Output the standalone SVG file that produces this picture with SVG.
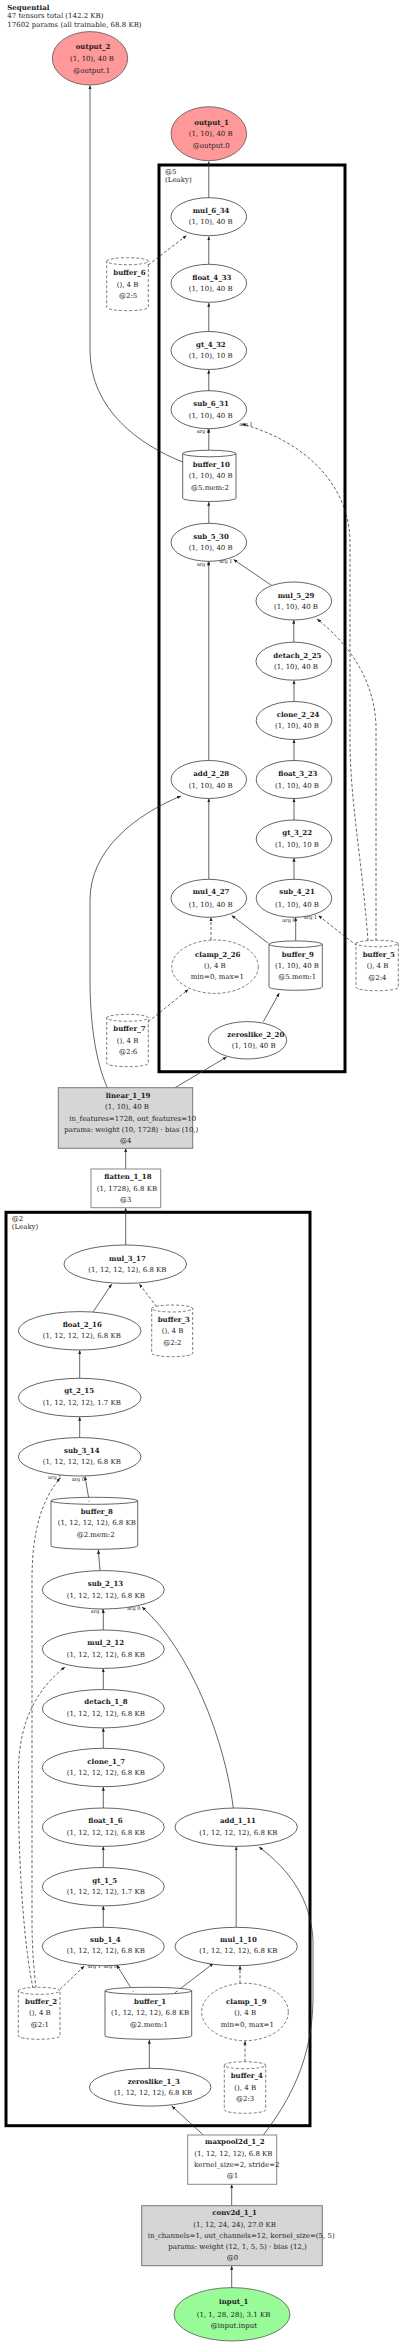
<svg xmlns="http://www.w3.org/2000/svg" width="400" height="2344" viewBox="0 0 400 2344">
<style>
text{font-family:"DejaVu Serif","Liberation Serif",serif;font-size:7px;fill:#222}
.b{font-weight:bold}
.s{font-size:5px;text-anchor:middle}
.n{fill:#fff;stroke:#222;stroke-width:0.7}
.d{fill:#fff;stroke:#444;stroke-width:0.7;stroke-dasharray:3,2}
.out{fill:#ff9999;stroke:#444;stroke-width:0.7}
.in{fill:#98fb98;stroke:#444;stroke-width:0.7}
.box{fill:#fff;stroke:#888;stroke-width:1}
.gbox{fill:#d6d6d6;stroke:#777;stroke-width:1}
.cl{fill:none;stroke:#000;stroke-width:3}
#edges path{fill:none;stroke:#333;stroke-width:0.75;marker-end:url(#ah)}
#edges path.ds{stroke-dasharray:3,2}
</style>
<defs>
<marker id="ah" markerUnits="userSpaceOnUse" markerWidth="4" markerHeight="3.2" viewBox="0 0 6 5" refX="6" refY="2.5" orient="auto"><path d="M0,0 L6,2.5 L0,5 z" fill="#222"/></marker>
</defs>
<rect width="400" height="2344" fill="#fff"/>
<g id="header">
<text x="7.3" y="9.8" class="b">Sequential</text>
<text x="7.3" y="18.2">47 tensors total (142.2 KB)</text>
<text x="7.3" y="26.5">17602 params (all trainable, 68.8 KB)</text>
</g>
<g id="cluster_5"><rect class="cl" x="159" y="165" width="186" height="906.7"/><text x="165" y="174.2">@5</text><text x="165" y="181.8">(Leaky)</text></g>
<g id="cluster_2"><rect class="cl" x="6" y="1212.3" width="304" height="913.4"/><text x="11.7" y="1220.8">@2</text><text x="11.7" y="1229.2">(Leaky)</text></g>
<g id="edges">
<path d="M208.8,197.7 L208.8,161.5"/>
<path class="ds" d="M148.3,265 L186.5,235.5"/>
<path d="M208.8,264.3 L208.8,236.5"/>
<path d="M208.8,331.7 L208.8,303"/>
<path d="M208.8,391 L208.8,370"/>
<path d="M208.8,450 L208.8,429"/>
<path class="ds" d="M368,941 C362,860 350,800 350,740 L350,540 C348,480 300,440 242,424"/>
<path d="M182.7,462 C140,445 90,410 90,350 L90,85.5"/>
<path d="M208.8,523.5 L208.8,502"/>
<path d="M271.7,585.5 L233.5,559.5"/>
<path d="M208.8,760.5 L208.8,561.5"/>
<path d="M293.8,642 L293.8,620"/>
<path class="ds" d="M376,941 L376,725 C374,680 350,645 317,619"/>
<path d="M294,701.7 L294,680.5"/>
<path d="M294,760.5 L294,739.5"/>
<path d="M208.8,879.3 L208.8,798.5"/>
<path d="M107.3,1087.7 C95,1060 90,1020 90,980 L90,900 C90,850 135,815 181,796"/>
<path d="M294,820 L294,798.5"/>
<path d="M294,879.3 L294,858"/>
<path class="ds" d="M211,940 L211,917.5"/>
<path d="M268.3,943.3 L231.7,915.5"/>
<path d="M295.7,940.7 L295.7,917.5"/>
<path class="ds" d="M356.7,945.7 L318.3,915.5"/>
<path class="ds" d="M148.3,1021.7 L188.3,989.5"/>
<path d="M263.3,1021.7 L279.3,993"/>
<path d="M175,1087.7 L226.7,1057"/>
<path d="M125.7,1169 L125.7,1148.5"/>
<path d="M125.7,1245 L125.7,1208"/>
<path d="M93.3,1311.7 L111.7,1284"/>
<path class="ds" d="M156.7,1306.7 L139.3,1284"/>
<path d="M79.7,1378.3 L79.7,1350.3"/>
<path d="M79.7,1437.7 L79.7,1416.8"/>
<path d="M89.3,1501.7 L85,1476.5"/>
<path class="ds" d="M36,1988 C34,1970 32,1950 32,1920 L32,1580 C32,1530 42,1500 60,1478"/>
<path d="M100,1570.7 L98.3,1550"/>
<path d="M103.3,1630 L103.3,1609.3"/>
<path d="M233.3,1808 C225,1740 190,1650 142,1607"/>
<path class="ds" d="M33,1988 C25,1950 19,1880 18.5,1800 L18.5,1770 C19,1720 38,1688 65,1667"/>
<path d="M103.3,1689.5 L103.3,1668.5"/>
<path d="M103.3,1748.3 L103.3,1728"/>
<path d="M103.3,1808 L103.3,1787"/>
<path d="M103.3,1867.5 L103.3,1846.5"/>
<path d="M103.3,1927.3 L103.3,1906"/>
<path d="M236.2,1927.3 L236.2,1846.5"/>
<path d="M263.3,2135 C290,2100 312,2060 313,2000 L313,1940 C311,1900 290,1870 259,1847"/>
<path class="ds" d="M60,1989.3 L84.3,1966"/>
<path d="M133.3,1991.7 L116.7,1965"/>
<path d="M175,1992.7 L213.3,1963.5"/>
<path class="ds" d="M240,1983.3 L240,1965.8"/>
<path d="M149.3,2068.3 L149.3,2040"/>
<path class="ds" d="M245,2061.7 L245,2041"/>
<path d="M203.3,2135 L171.7,2106"/>
<path d="M231.7,2205.7 L231.7,2184.5"/>
<path d="M231.7,2287.7 L231.7,2266"/>
</g>
<g id="edge_labels">
<text class="s" x="203.3" y="433.4">arg 0</text><text class="s" x="246" y="426">arg 1</text>
<text class="s" x="203.3" y="566">arg 0</text><text class="s" x="225.8" y="562.7">arg 1</text>
<text class="s" x="289" y="922.4">arg 0</text><text class="s" x="310.5" y="919">arg 1</text>
<text class="s" x="54.7" y="1479.4">arg 1</text><text class="s" x="78.3" y="1480.7">arg 0</text>
<text class="s" x="97.5" y="1613.4">arg 1</text><text class="s" x="133.8" y="1610">arg 0</text>
<text class="s" x="94.3" y="1968.4">arg 1</text><text class="s" x="110.5" y="1968.4">arg 0</text>
</g>
<g id="output_2"><ellipse class="out" cx="90" cy="58.3" rx="37.7" ry="26.7"/><text x="75.7" y="49.2" class="b">output_2</text><text x="70" y="60.8">(1, 10), 40 B</text><text x="73.3" y="72.5">@output.1</text></g>
<g id="output_1"><ellipse class="out" cx="208.8" cy="133.7" rx="37.8" ry="27"/><text x="194.3" y="124.5" class="b">output_1</text><text x="188.7" y="135.8">(1, 10), 40 B</text><text x="192.7" y="147.5">@output.0</text></g>
<g id="mul_6_34"><ellipse class="n" cx="208.8" cy="216.7" rx="37.8" ry="19"/><text x="192.7" y="213.2" class="b">mul_6_34</text><text x="188.7" y="224.2">(1, 10), 40 B</text></g>
<g id="buffer_6"><path class="d" d="M106.7,261.2 A20.8,3.5 0 0 1 148.3,261.2 A20.8,3.5 0 0 1 106.7,261.2 L106.7,307.2 A20.8,3.5 0 0 0 148.3,307.2 L148.3,261.2"/><text x="113.3" y="274.8" class="b">buffer_6</text><text x="116.7" y="286.5">(), 4 B</text><text x="119" y="297.5">@2:5</text></g>
<g id="float_4_33"><ellipse class="n" cx="208.8" cy="283.3" rx="37.8" ry="19"/><text x="192.3" y="279.8" class="b">float_4_33</text><text x="188.7" y="290.8">(1, 10), 40 B</text></g>
<g id="gt_4_32"><ellipse class="n" cx="208.8" cy="350.5" rx="37.8" ry="19"/><text x="196" y="346.5" class="b">gt_4_32</text><text x="188.7" y="357.8">(1, 10), 10 B</text></g>
<g id="sub_6_31"><ellipse class="n" cx="208.8" cy="409.7" rx="37.8" ry="19"/><text x="193.3" y="405.8" class="b">sub_6_31</text><text x="188.7" y="417.5">(1, 10), 40 B</text></g>
<g id="buffer_10"><path class="n" d="M182.7,453.5 A26.7,3.5 0 0 1 236,453.5 A26.7,3.5 0 0 1 182.7,453.5 L182.7,498.2 A26.7,3.5 0 0 0 236,498.2 L236,453.5"/><text x="192.7" y="466.5" class="b">buffer_10</text><text x="188.7" y="478.2">(1, 10), 40 B</text><text x="191" y="489.8">@5.mem:2</text></g>
<g id="sub_5_30"><ellipse class="n" cx="208.8" cy="542.3" rx="37.8" ry="19"/><text x="193.3" y="538.5" class="b">sub_5_30</text><text x="188.7" y="550.2">(1, 10), 40 B</text></g>
<g id="mul_5_29"><ellipse class="n" cx="293.8" cy="601" rx="37.8" ry="19"/><text x="277.7" y="597.5" class="b">mul_5_29</text><text x="274" y="609.2">(1, 10), 40 B</text></g>
<g id="detach_2_25"><ellipse class="n" cx="293.8" cy="661.2" rx="37.8" ry="19"/><text x="273.3" y="657.5" class="b">detach_2_25</text><text x="274" y="669.2">(1, 10), 40 B</text></g>
<g id="clone_2_24"><ellipse class="n" cx="294" cy="720.5" rx="37.8" ry="19"/><text x="276.7" y="716.5" class="b">clone_2_24</text><text x="275" y="728.2">(1, 10), 40 B</text></g>
<g id="add_2_28"><ellipse class="n" cx="208.8" cy="779.5" rx="37.8" ry="19"/><text x="193.3" y="775.8" class="b">add_2_28</text><text x="188.7" y="787.5">(1, 10), 40 B</text></g>
<g id="float_3_23"><ellipse class="n" cx="294" cy="779.5" rx="37.8" ry="19"/><text x="278.3" y="775.8" class="b">float_3_23</text><text x="275" y="787.5">(1, 10), 40 B</text></g>
<g id="gt_3_22"><ellipse class="n" cx="294" cy="839" rx="37.8" ry="19"/><text x="282.3" y="835.2" class="b">gt_3_22</text><text x="275" y="846.8">(1, 10), 10 B</text></g>
<g id="mul_4_27"><ellipse class="n" cx="208.8" cy="898.3" rx="37.8" ry="19"/><text x="192.7" y="894.2" class="b">mul_4_27</text><text x="188.7" y="906.5">(1, 10), 40 B</text></g>
<g id="sub_4_21"><ellipse class="n" cx="294" cy="898.3" rx="37.8" ry="19"/><text x="279.3" y="894.2" class="b">sub_4_21</text><text x="275" y="906.5">(1, 10), 40 B</text></g>
<g id="clamp_2_26"><ellipse class="d" cx="215" cy="966.7" rx="43.3" ry="26.7"/><text x="195" y="956.5" class="b">clamp_2_26</text><text x="204" y="968.2">(), 4 B</text><text x="190.7" y="979.2">min=0, max=1</text></g>
<g id="buffer_9"><path class="n" d="M269,944.2 A26.7,3.5 0 0 1 322.3,944.2 A26.7,3.5 0 0 1 269,944.2 L269,987 A26.7,3.5 0 0 0 322.3,987 L322.3,944.2"/><text x="281.7" y="956.5" class="b">buffer_9</text><text x="275" y="968.2">(1, 10), 40 B</text><text x="278.3" y="979.2">@5.mem:1</text></g>
<g id="buffer_5"><path class="d" d="M356,943.5 A21.2,3.5 0 0 1 398.3,943.5 A21.2,3.5 0 0 1 356,943.5 L356,987.5 A21.2,3.5 0 0 0 398.3,987.5 L398.3,943.5"/><text x="362.7" y="956.5" class="b">buffer_5</text><text x="366.7" y="968.2">(), 4 B</text><text x="368.3" y="980.2">@2:4</text></g>
<g id="buffer_7"><path class="d" d="M106.7,1017.8 A20.8,3.5 0 0 1 148.3,1017.8 A20.8,3.5 0 0 1 106.7,1017.8 L106.7,1063.2 A20.8,3.5 0 0 0 148.3,1063.2 L148.3,1017.8"/><text x="113.3" y="1030.8" class="b">buffer_7</text><text x="116.7" y="1042.5">(), 4 B</text><text x="119" y="1054.2">@2:6</text></g>
<g id="zeroslike_2_20"><ellipse class="n" cx="247.5" cy="1040.3" rx="39.2" ry="18.7"/><text x="227.3" y="1036.8" class="b">zeroslike_2_20</text><text x="231.7" y="1048.2">(1, 10), 40 B</text></g>
<g id="linear_1_19"><rect class="gbox" x="58.3" y="1087.7" width="134.4" height="60.6"/><text x="105.7" y="1097.5" class="b">linear_1_19</text><text x="105" y="1109.2">(1, 10), 40 B</text><text x="69.3" y="1120.8">in_features=1728, out_features=10</text><text x="64.3" y="1131.8">params: weight (10, 1728) · bias (10,)</text><text x="120" y="1143.2">@4</text></g>
<g id="flatten_1_18"><rect class="box" x="91" y="1169" width="69.7" height="38.7"/><text x="104.3" y="1179.2" class="b">flatten_1_18</text><text x="96.7" y="1190.8">(1, 1728), 6.8 KB</text><text x="120" y="1201.8">@3</text></g>
<g id="mul_3_17"><ellipse class="n" cx="125.3" cy="1264.2" rx="61.3" ry="19.2"/><text x="109" y="1260.8" class="b">mul_3_17</text><text x="88.3" y="1271.8">(1, 12, 12, 12), 6.8 KB</text></g>
<g id="float_2_16"><ellipse class="n" cx="79.7" cy="1330.8" rx="61.3" ry="19.2"/><text x="62.7" y="1326.8" class="b">float_2_16</text><text x="42.7" y="1338.2">(1, 12, 12, 12), 6.8 KB</text></g>
<g id="buffer_3"><path class="d" d="M151.7,1308.5 A20.5,3.5 0 0 1 192.7,1308.5 A20.5,3.5 0 0 1 151.7,1308.5 L151.7,1353.2 A20.5,3.5 0 0 0 192.7,1353.2 L192.7,1308.5"/><text x="157.7" y="1321.5" class="b">buffer_3</text><text x="161.7" y="1333.2">(), 4 B</text><text x="163.3" y="1344.8">@2:2</text></g>
<g id="gt_2_15"><ellipse class="n" cx="79.7" cy="1397.5" rx="61.3" ry="19.2"/><text x="64.3" y="1393.2" class="b">gt_2_15</text><text x="42.7" y="1404.8">(1, 12, 12, 12), 1.7 KB</text></g>
<g id="sub_3_14"><ellipse class="n" cx="79.7" cy="1456.8" rx="61.3" ry="19.2"/><text x="64" y="1452.5" class="b">sub_3_14</text><text x="42.7" y="1464.2">(1, 12, 12, 12), 6.8 KB</text></g>
<g id="buffer_8"><path class="n" d="M51,1500.8 A43.3,3.5 0 0 1 137.7,1500.8 A43.3,3.5 0 0 1 51,1500.8 L51,1545.8 A43.3,3.5 0 0 0 137.7,1545.8 L137.7,1500.8"/><text x="80.7" y="1513.5" class="b">buffer_8</text><text x="57.7" y="1525.2">(1, 12, 12, 12), 6.8 KB</text><text x="76.7" y="1536.5">@2.mem:2</text></g>
<g id="sub_2_13"><ellipse class="n" cx="103.3" cy="1589.8" rx="61" ry="19.2"/><text x="87.7" y="1585.8" class="b">sub_2_13</text><text x="66.7" y="1597.5">(1, 12, 12, 12), 6.8 KB</text></g>
<g id="mul_2_12"><ellipse class="n" cx="103.3" cy="1649.2" rx="61" ry="19.2"/><text x="87.3" y="1644.8" class="b">mul_2_12</text><text x="66.7" y="1656.5">(1, 12, 12, 12), 6.8 KB</text></g>
<g id="detach_1_8"><ellipse class="n" cx="103.3" cy="1708.7" rx="61" ry="19.2"/><text x="84.3" y="1704.2" class="b">detach_1_8</text><text x="66.7" y="1715.8">(1, 12, 12, 12), 6.8 KB</text></g>
<g id="clone_1_7"><ellipse class="n" cx="103.3" cy="1767.5" rx="61" ry="19.2"/><text x="87.3" y="1763.5" class="b">clone_1_7</text><text x="66.7" y="1774.8">(1, 12, 12, 12), 6.8 KB</text></g>
<g id="float_1_6"><ellipse class="n" cx="103.3" cy="1827.2" rx="61" ry="19.2"/><text x="88.3" y="1823.2" class="b">float_1_6</text><text x="66.7" y="1834.8">(1, 12, 12, 12), 6.8 KB</text></g>
<g id="add_1_11"><ellipse class="n" cx="236.2" cy="1827.2" rx="61.2" ry="19.2"/><text x="220" y="1823.2" class="b">add_1_11</text><text x="199.3" y="1834.8">(1, 12, 12, 12), 6.8 KB</text></g>
<g id="gt_1_5"><ellipse class="n" cx="103.3" cy="1886.7" rx="61" ry="19.2"/><text x="92.3" y="1882.5" class="b">gt_1_5</text><text x="66.7" y="1894.2">(1, 12, 12, 12), 1.7 KB</text></g>
<g id="sub_1_4"><ellipse class="n" cx="103.3" cy="1946.5" rx="61" ry="19.2"/><text x="90" y="1941.5" class="b">sub_1_4</text><text x="66.7" y="1953.2">(1, 12, 12, 12), 6.8 KB</text></g>
<g id="mul_1_10"><ellipse class="n" cx="236.2" cy="1946.5" rx="61.2" ry="19.2"/><text x="220" y="1941.5" class="b">mul_1_10</text><text x="199.3" y="1953.2">(1, 12, 12, 12), 6.8 KB</text></g>
<g id="buffer_2"><path class="d" d="M18.3,1990.8 A20.8,3.5 0 0 1 60,1990.8 A20.8,3.5 0 0 1 18.3,1990.8 L18.3,2035.8 A20.8,3.5 0 0 0 60,2035.8 L60,1990.8"/><text x="25" y="2003.5" class="b">buffer_2</text><text x="29" y="2015.2">(), 4 B</text><text x="30.7" y="2026.5">@2:1</text></g>
<g id="buffer_1"><path class="n" d="M105,1990.8 A43.3,3.5 0 0 1 191.7,1990.8 A43.3,3.5 0 0 1 105,1990.8 L105,2035.8 A43.3,3.5 0 0 0 191.7,2035.8 L191.7,1990.8"/><text x="134" y="2003.5" class="b">buffer_1</text><text x="111" y="2015.2">(1, 12, 12, 12), 6.8 KB</text><text x="130" y="2026.5">@2.mem:1</text></g>
<g id="clamp_1_9"><ellipse class="d" cx="245" cy="2012" rx="43.3" ry="28.7"/><text x="226" y="2003.5" class="b">clamp_1_9</text><text x="234.3" y="2015.2">(), 4 B</text><text x="220.7" y="2026.5">min=0, max=1</text></g>
<g id="zeroslike_1_3"><ellipse class="n" cx="150.2" cy="2087.2" rx="60.8" ry="18.9"/><text x="127.7" y="2083.5" class="b">zeroslike_1_3</text><text x="114" y="2095.2">(1, 12, 12, 12), 6.8 KB</text></g>
<g id="buffer_4"><path class="d" d="M224.3,2065.2 A20.7,3.5 0 0 1 265.7,2065.2 A20.7,3.5 0 0 1 224.3,2065.2 L224.3,2109.8 A20.7,3.5 0 0 0 265.7,2109.8 L265.7,2065.2"/><text x="230.7" y="2078.2" class="b">buffer_4</text><text x="234.3" y="2089.8">(), 4 B</text><text x="236" y="2100.8">@2:3</text></g>
<g id="maxpool2d_1_2"><rect class="box" x="187.7" y="2135" width="89" height="49.3"/><text x="205" y="2144.2" class="b">maxpool2d_1_2</text><text x="194.3" y="2155.8">(1, 12, 12, 12), 6.8 KB</text><text x="194" y="2166.8">kernel_size=2, stride=2</text><text x="226.7" y="2178.2">@1</text></g>
<g id="conv2d_1_1"><rect class="gbox" x="141.7" y="2205.7" width="180.6" height="60"/><text x="212.3" y="2215.2" class="b">conv2d_1_1</text><text x="193.3" y="2226.8">(1, 12, 24, 24), 27.0 KB</text><text x="147.7" y="2238.2">in_channels=1, out_channels=12, kernel_size=(5, 5)</text><text x="168.3" y="2249.2">params: weight (12, 1, 5, 5) · bias (12,)</text><text x="226.7" y="2260.2">@0</text></g>
<g id="input_1"><ellipse class="in" cx="232" cy="2314.3" rx="58" ry="26.7"/><text x="219" y="2304.2" class="b">input_1</text><text x="196.7" y="2316.5">(1, 1, 28, 28), 3.1 KB</text><text x="210.7" y="2327.5">@input.input</text></g>
</svg>
